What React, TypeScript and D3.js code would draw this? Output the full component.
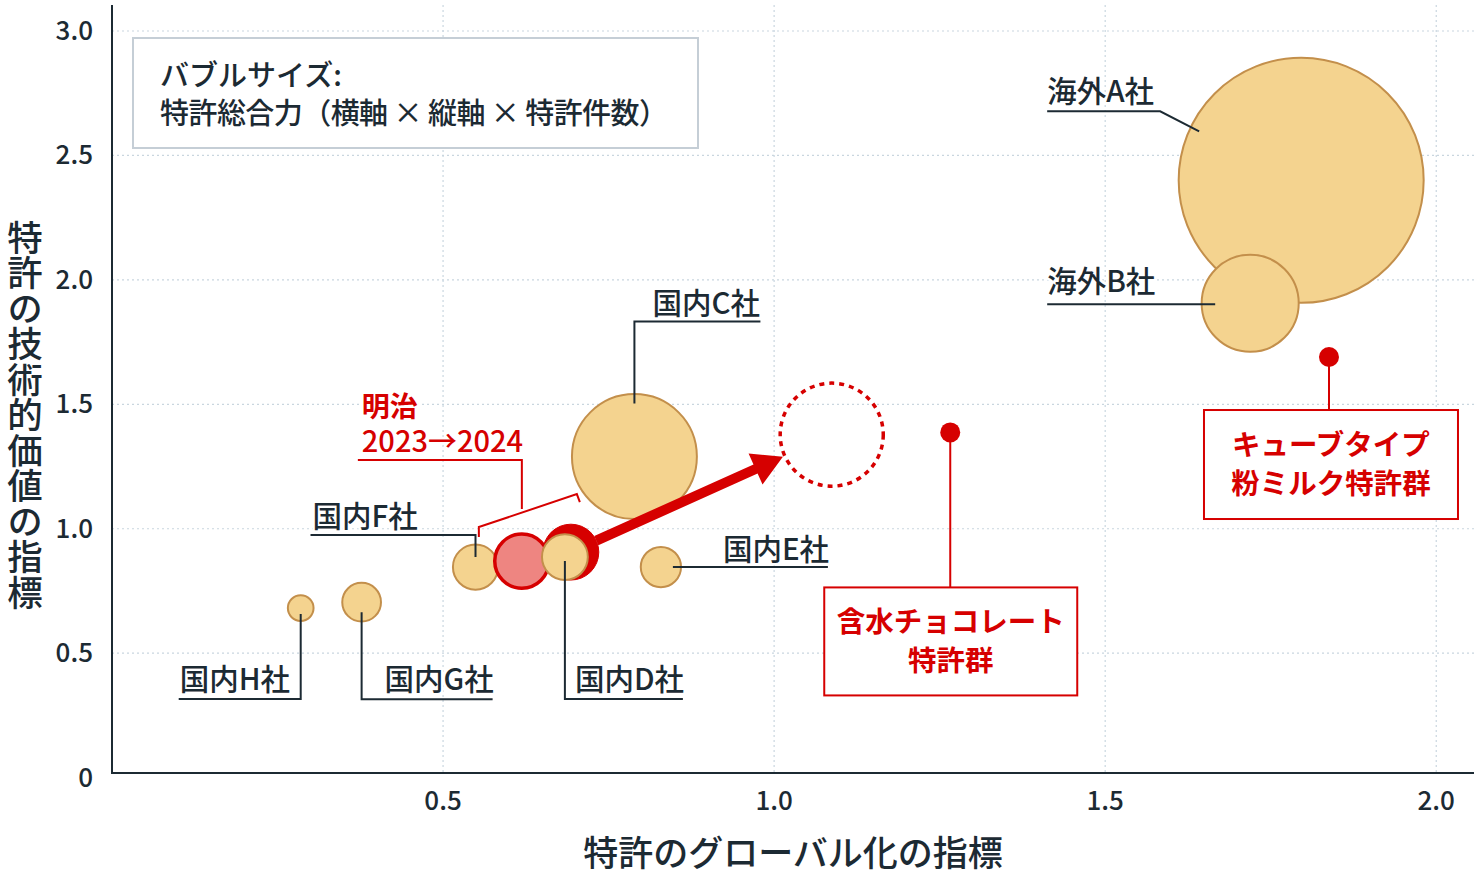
import { useEffect, useRef } from "react";
import { select, scaleLinear, scaleSqrt, line } from "d3";

// Companies (bubble data)
const companies = ["国内H社", "国内G社", "国内F社", "明治2023", "明治2024", "国内D社", "国内E社", "国内C社", "海外A社", "海外B社"];
const globalIdx = [0.285, 0.377, 0.549, 0.619, 0.693, 0.684, 0.829, 0.789, 1.796, 1.719];
const techValue = [0.681, 0.705, 0.846, 0.870, 0.906, 0.886, 0.846, 1.290, 2.400, 1.906];
const patentPower = [1.1, 2.5, 3.4, 4.9, 5.2, 3.5, 2.7, 26, 100, 15.7];

// Meiji target (dashed) and patent group points
const targetPoint = { x: 1.087, y: 1.378, size: 17.7 };
const patentGroups = ["含水チョコレート|特許群", "キューブタイプ|粉ミルク特許群"];
const groupX = [1.266, 1.838];
const groupY = [1.387, 1.69];

const xTicks = [0.5, 1.0, 1.5, 2.0];
const yTicks = [0, 0.5, 1.0, 1.5, 2.0, 2.5, 3.0];

const FONT = "'Noto Sans CJK JP', 'Noto Sans', sans-serif";
const RED = "#d60000";
const INK = "#1c2a33";

// label layout: offsets from the bubble centre (px)
const labelLayout: Record<string, { path: [number, number][]; tx: number; ty: number }> = {
  国内H社: { path: [[0, 6], [0, 91], [-122, 91]], tx: -121, ty: 82 },
  国内G社: { path: [[0, 10], [0, 97], [131, 97]], tx: 23, ty: 88 },
  国内F社: { path: [[0, -10], [0, -32], [-165, -32]], tx: -163, ty: -40 },
  国内D社: { path: [[0, 4], [0, 142], [118, 142]], tx: 10, ty: 133 },
  国内E社: { path: [[12, 0], [167, 0]], tx: 62, ty: -7 },
  国内C社: { path: [[0, -53], [0, -135], [126, -135]], tx: 18, ty: -143 },
  海外A社: { path: [[-102, -49], [-141, -69], [-254, -69]], tx: -254, ty: -78 },
  海外B社: { path: [[-35, 1], [-203, 1]], tx: -203, ty: -11 },
};

export default function App() {
  const svgRef = useRef<SVGSVGElement | null>(null);

  useEffect(() => {
    const svg = select(svgRef.current);
    svg.selectAll("*").remove();

    const x = scaleLinear().domain([0, 2.054]).range([112, 1472]);
    const y = scaleLinear().domain([0, 3]).range([777.6, 31]);
    const r = scaleSqrt().domain([0, 100]).range([0, 122.5]);

    // grid
    const grid = svg.append("g");
    grid.selectAll(".gx").data(xTicks).join("line")
      .attr("x1", (d) => x(d)).attr("x2", (d) => x(d))
      .attr("y1", 5).attr("y2", 774)
      .attr("stroke", "#c9d6df").attr("stroke-width", 1.2).attr("stroke-dasharray", "2,3");
    grid.selectAll(".gy").data(yTicks.filter((d) => d > 0)).join("line")
      .attr("x1", 112).attr("x2", 1474)
      .attr("y1", (d) => y(d)).attr("y2", (d) => y(d))
      .attr("stroke", "#c9d6df").attr("stroke-width", 1.2).attr("stroke-dasharray", "2,3");

    // axes
    svg.append("line").attr("x1", 112).attr("x2", 112).attr("y1", 5).attr("y2", 774)
      .attr("stroke", INK).attr("stroke-width", 2);
    svg.append("line").attr("x1", 111).attr("x2", 1474).attr("y1", 773).attr("y2", 773)
      .attr("stroke", INK).attr("stroke-width", 2);

    svg.selectAll(".xt").data(xTicks).join("text")
      .attr("x", (d) => x(d)).attr("y", 810)
      .attr("text-anchor", "middle").attr("font-size", 26).attr("font-weight", 500).attr("font-family", FONT).attr("fill", INK)
      .text((d) => d.toFixed(1));
    svg.selectAll(".yt").data(yTicks).join("text")
      .attr("x", 93).attr("y", (d) => y(d) + 9)
      .attr("text-anchor", "end").attr("font-size", 26).attr("font-weight", 500).attr("font-family", FONT).attr("fill", INK)
      .text((d) => (d === 0 ? "0" : d.toFixed(1)));

    // axis titles
    svg.append("text").attr("x", 793).attr("y", 866).attr("text-anchor", "middle")
      .attr("font-size", 35).attr("font-weight", 500).attr("font-family", FONT).attr("fill", INK)
      .text("特許のグローバル化の指標");
    svg.append("text").attr("x", 25).attr("y", 415).attr("text-anchor", "middle")
      .attr("font-size", 35.5).attr("font-weight", 500).attr("font-family", FONT).attr("fill", INK)
      .style("writing-mode", "vertical-rl").style("text-orientation", "upright")
      .text("特許の技術的価値の指標");

    // legend box
    svg.append("rect").attr("x", 133).attr("y", 38).attr("width", 565).attr("height", 110)
      .attr("fill", "#fff").attr("stroke", "#c5ced6").attr("stroke-width", 2);
    svg.append("text").attr("x", 160).attr("y", 86).attr("font-size", 29).attr("font-weight", 500).attr("font-family", FONT).attr("fill", INK)
      .text("バブルサイズ:");
    svg.append("text").attr("x", 160).attr("y", 124).attr("font-size", 29).attr("font-weight", 500).attr("font-family", FONT).attr("fill", INK)
      .attr("textLength", 508).attr("lengthAdjust", "spacing")
      .text("特許総合力（横軸 × 縦軸 × 特許件数）");

    const pts = companies.map((name, i) => ({
      name, cx: x(globalIdx[i]), cy: y(techValue[i]), rad: r(patentPower[i]),
    }));
    const byName = (n: string) => pts.find((p) => p.name === n)!;

    // bubbles
    const drawOrder = ["国内H社", "国内G社", "国内F社", "明治2023", "明治2024", "国内D社", "国内E社", "国内C社"];
    const bubbles = svg.append("g");
    drawOrder.forEach((n) => {
      const p = byName(n);
      const c = bubbles.append("circle").attr("cx", p.cx).attr("cy", p.cy).attr("r", p.rad);
      if (n === "明治2023") c.attr("fill", "#ee8581").attr("stroke", RED).attr("stroke-width", 3.5);
      else if (n === "明治2024") c.attr("fill", RED).attr("stroke", RED).attr("stroke-width", 1);
      else c.attr("fill", "#f4d38f").attr("stroke", "#c38f4b").attr("stroke-width", 2);
    });

    // arrow 2024 -> target
    const m24 = byName("明治2024");
    const tx = x(targetPoint.x), ty = y(targetPoint.y), tr = r(targetPoint.size);
    const dx = tx - m24.cx, dy = ty - m24.cy;
    const len = Math.hypot(dx, dy);
    const ux = dx / len, uy = dy / len;
    const sx = m24.cx + ux * m24.rad, sy = m24.cy + uy * m24.rad;
    const ex = tx - ux * (tr + 2), ey = ty - uy * (tr + 2);
    const headL = 30, headW = 17, shaft = 5;
    const bx = ex - ux * headL, by = ey - uy * headL;
    const nx = -uy, ny = ux;
    const arrowPts: [number, number][] = [
      [sx + nx * shaft, sy + ny * shaft], [bx + nx * shaft, by + ny * shaft], [bx + nx * headW, by + ny * headW],
      [ex, ey], [bx - nx * headW, by - ny * headW], [bx - nx * shaft, by - ny * shaft], [sx - nx * shaft, sy - ny * shaft],
    ];
    svg.append("path").attr("d", line()(arrowPts) + "Z").attr("fill", RED);

    svg.append("circle").attr("cx", tx).attr("cy", ty).attr("r", tr)
      .attr("fill", "none").attr("stroke", RED).attr("stroke-width", 3.5).attr("stroke-dasharray", "5,5");

    ["海外A社", "海外B社"].forEach((n) => {
      const p = byName(n);
      bubbles.append("circle").attr("cx", p.cx).attr("cy", p.cy).attr("r", p.rad)
        .attr("fill", "#f4d38f").attr("stroke", "#c38f4b").attr("stroke-width", 2);
    });
    bubbles.raise();
    svg.selectAll("path").raise();
    svg.selectAll("circle[stroke-dasharray]").raise();

    // company labels
    const labels = svg.append("g");
    Object.entries(labelLayout).forEach(([n, lay]) => {
      const p = byName(n);
      labels.append("path")
        .attr("d", line()(lay.path.map(([a, b]) => [p.cx + a, p.cy + b])))
        .attr("fill", "none").attr("stroke", INK).attr("stroke-width", 2);
      labels.append("text").attr("x", p.cx + lay.tx).attr("y", p.cy + lay.ty)
        .attr("font-size", 29.5).attr("font-weight", 500).attr("font-family", FONT).attr("fill", INK)
        .attr("stroke", "#fff").attr("stroke-width", 5).attr("paint-order", "stroke")
        .text(n);
    });

    // Meiji bracket + label
    const m23 = byName("明治2023");
    const bracket: [number, number][] = [
      [m23.cx - 43, m23.cy - 24], [m23.cx - 43, m23.cy - 34], [m23.cx + 55, m23.cy - 67], [m23.cx + 58, m23.cy - 59],
    ];
    svg.append("path").attr("d", line()(bracket)).attr("fill", "none").attr("stroke", RED).attr("stroke-width", 2);
    svg.append("path").attr("d", line()([[m23.cx, m23.cy - 52], [m23.cx, m23.cy - 101], [m23.cx - 164, m23.cy - 101]]))
      .attr("fill", "none").attr("stroke", RED).attr("stroke-width", 2);
    const meiji = svg.append("text").attr("font-family", FONT).attr("fill", RED)
      .attr("stroke", "#fff").attr("stroke-width", 4).attr("paint-order", "stroke");
    meiji.append("tspan").attr("x", m23.cx - 160).attr("y", m23.cy - 144)
      .attr("font-size", 28).attr("font-weight", 700).text("明治");
    meiji.append("tspan").attr("x", m23.cx - 160).attr("y", m23.cy - 109)
      .attr("font-size", 29).attr("font-weight", 500).text("2023→2024");

    // patent group points + boxes
    const boxLayout = [
      { dy: 155, w: 253, h: 108 },
      { dy: 53, w: 254, h: 109 },
    ];
    patentGroups.forEach((g, i) => {
      const cx = x(groupX[i]), cy = y(groupY[i]);
      const b = boxLayout[i];
      const bxl = i === 0 ? cx - 126 : cx - 125;
      const top = cy + b.dy;
      svg.append("line").attr("x1", cx).attr("x2", cx).attr("y1", cy).attr("y2", top)
        .attr("stroke", RED).attr("stroke-width", 2);
      svg.append("circle").attr("cx", cx).attr("cy", cy).attr("r", 10).attr("fill", RED);
      svg.append("rect").attr("x", bxl).attr("y", top).attr("width", b.w).attr("height", b.h)
        .attr("fill", "#fff").attr("stroke", RED).attr("stroke-width", 2);
      const [l1, l2] = g.split("|");
      const mid = bxl + b.w / 2;
      [l1, l2].forEach((t, k) => {
        svg.append("text").attr("x", mid).attr("y", top + 45 + k * 39)
          .attr("text-anchor", "middle").attr("font-size", 28.5).attr("font-weight", 700)
          .attr("font-family", FONT).attr("fill", RED).text(t);
      });
    });
  }, []);

  return <svg ref={svgRef} width={1475} height={884} style={{ position: "absolute", left: 0, top: 0, background: "#fff" }} />;
}
